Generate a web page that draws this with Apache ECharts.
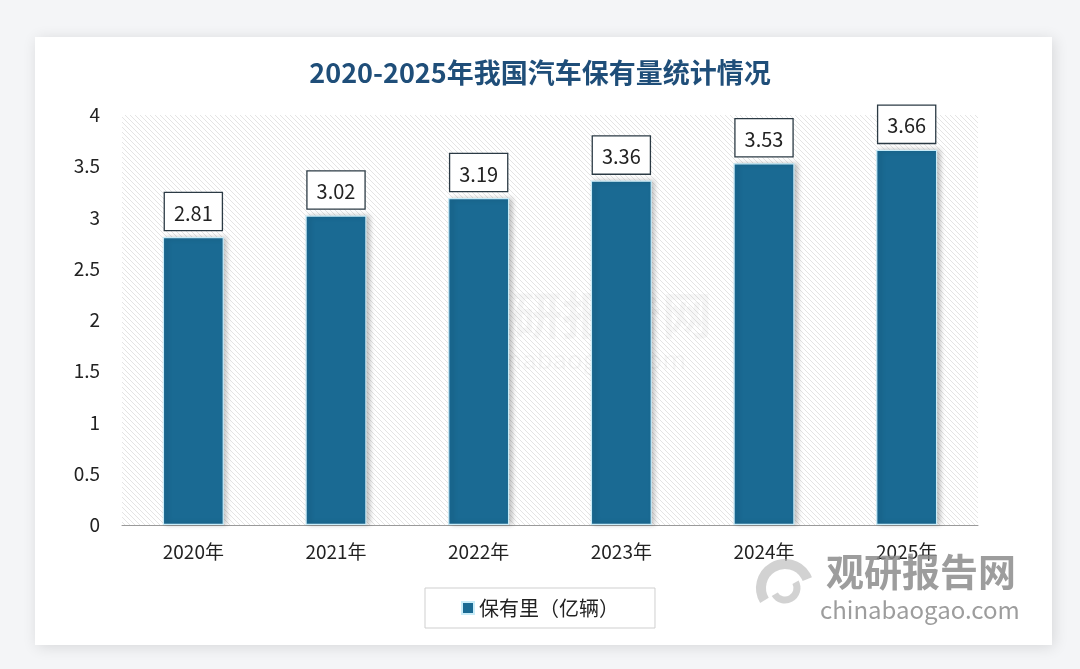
<!DOCTYPE html>
<html><head><meta charset="utf-8">
<script src="https://cdn.jsdelivr.net/npm/echarts@6/dist/echarts.min.js"></script>
<style>html,body{margin:0;padding:0;background:#f4f5f7;}#c{width:1080px;height:669px;}</style>
</head><body><div id="c"></div>
<script>
const categories = ['2020年','2021年','2022年','2023年','2024年','2025年'];
const values = [2.81, 3.02, 3.19, 3.36, 3.53, 3.66];
const seriesName = '保有里（亿辆）';
const titleText = '2020-2025年我国汽车保有量统计情况';

// hatch pattern
const n = 5;
const cv = document.createElement('canvas');
cv.width = n; cv.height = n;
const cx = cv.getContext('2d');
cx.fillStyle = '#ffffff'; cx.fillRect(0,0,n,n);
cx.fillStyle = 'rgba(205,205,205,0.55)';
for (let x=0;x<n;x++){ for(let y=0;y<n;y++){ if ((x - y + n) % n === 0) cx.fillRect(x,y,1,1); } }

const chart = echarts.init(document.getElementById('c'));
const font = '"Noto Sans CJK SC", "Noto Sans", sans-serif';
chart.setOption({
  backgroundColor: '#f4f5f7',
  textStyle: {fontFamily: font},
  graphic: [
    {type:'rect', shape:{x:35,y:37,width:1017,height:608}, style:{fill:'#ffffff', shadowBlur:14, shadowColor:'rgba(0,0,0,0.12)', shadowOffsetX:2, shadowOffsetY:2}, z:-10},
    {type:'text', left:462, top:290, style:{text:'观研报告网', font:'bold 50px '+font, fill:'rgba(120,120,120,0.06)'}, z:1},
    {type:'text', left:470, top:346, style:{text:'chinabaogao.com', font:'26px '+font, fill:'rgba(120,120,120,0.06)'}, z:1},
    {type:'text', left:826, top:553, style:{text:'观研报告网', font:'bold 38px '+font, fill:'rgba(140,140,140,0.85)'}, z:1},
    {type:'text', left:820, top:598, style:{text:'chinabaogao.com', font:'24px '+font, fill:'rgba(140,140,140,0.85)'}, z:1},
    {type:'arc', shape:{cx:785,cy:588,r:24,startAngle:2.6,endAngle:5.9}, style:{fill:'none', stroke:'rgba(180,180,180,0.6)', lineWidth:10}, z:1},
    {type:'arc', shape:{cx:785,cy:588,r:12,startAngle:-0.5,endAngle:2.6}, style:{fill:'none', stroke:'rgba(180,180,180,0.6)', lineWidth:7}, z:1}
  ],
  title: {
    text: titleText, left: 'center', top: 54,
    textStyle: {fontSize: 27, fontWeight: 'bold', color: '#1f4e79', fontFamily: font}
  },
  legend: {
    data: [seriesName], left: 'center', top: 588,
    borderColor: '#cfcfcf', borderWidth: 1, padding: [10, 36],
    itemWidth: 12, itemHeight: 12, itemGap: 6, icon: 'rect',
    textStyle: {fontSize: 20, color: '#222', fontFamily: font}
  },
  grid: {
    left: 122, right: 102, top: 115, bottom: 144, containLabel: false,
    show: true, borderWidth: 0,
    backgroundColor: {image: cv, repeat: 'repeat'}
  },
  xAxis: {
    type: 'category', data: categories,
    axisLine: {lineStyle: {color: '#9a9a9a', width: 1}},
    axisTick: {show: false},
    axisLabel: {fontSize: 19, color: '#222', margin: 17, fontFamily: font}
  },
  yAxis: {
    type: 'value', min: 0, max: 4, interval: 0.5,
    axisLine: {show: false}, axisTick: {show: false},
    splitLine: {show: false},
    axisLabel: {fontSize: 19, color: '#222', margin: 22, fontFamily: font}
  },
  series: [{
    name: seriesName, type: 'bar', data: values, barWidth: 61,
    itemStyle: {color: '#1a6a93', borderColor: '#c9ecf8', borderWidth: 1.2,
      shadowBlur: 5, shadowColor: 'rgba(0,0,0,0.25)', shadowOffsetX: 3, shadowOffsetY: 0},
    label: {
      show: true, position: 'top', distance: 7,
      fontSize: 20, color: '#222', fontFamily: font,
      backgroundColor: '#fff', borderColor: '#2b3a44', borderWidth: 1.3,
      padding: [10, 9, 7, 9]
    }
  }]
});
</script></body></html>
